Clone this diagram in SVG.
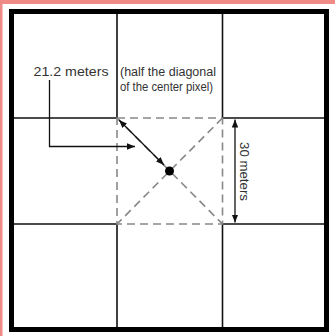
<svg xmlns="http://www.w3.org/2000/svg" width="335" height="336" viewBox="0 0 335 336">
<style>
.grid{stroke:#111;stroke-width:1.6;fill:none}
.dash{stroke:#888;stroke-width:1.6;fill:none;stroke-dasharray:8 5}
.ln{stroke:#111;stroke-width:1.3;fill:none}
.t{font-family:"Liberation Sans",Arial,sans-serif;font-size:13px;fill:#333}
.s{font-size:12px}
</style>
<defs>
<marker id="ah" viewBox="0 0 10 10" refX="10" refY="5" markerWidth="8" markerHeight="8" markerUnits="userSpaceOnUse" orient="auto-start-reverse">
<path d="M0,1 L10,5 L0,9 z" fill="#111"/>
</marker>
</defs>
<rect x="0" y="0" width="335" height="336" fill="#fff"/>
<rect x="0" y="0" width="335" height="4" fill="#f08a87"/>
<rect x="0" y="0" width="2.5" height="336" fill="#f08a87"/>
<g id="frame">
<rect x="11.5" y="11.5" width="315" height="318" fill="none" stroke="#000" stroke-width="5"/>
</g>
<g id="grid">
<path class="grid" d="M117,14 V118 M117,224 V327 M222.5,14 V118 M222.5,224 V327 M14,118 H117 M222.5,118 H324 M14,224 H117 M222.5,224 H324"/>
</g>
<g id="center-pixel">
<rect class="dash" x="117" y="118" width="105.5" height="106"/>
<path class="dash" d="M117,118 L222.5,224 M222.5,118 L117,224"/>
<circle cx="169.5" cy="171" r="4.5" fill="#000"/>
</g>
<g id="connectors">
<line class="ln" x1="119" y1="120" x2="164" y2="165" marker-start="url(#ah)" marker-end="url(#ah)"/>
<path class="ln" d="M49.5,80 V146.5 H135" marker-end="url(#ah)"/>
<line class="ln" x1="235" y1="119.5" x2="235" y2="222.5" marker-start="url(#ah)" marker-end="url(#ah)"/>
</g>
<g id="labels">
<text class="t" x="33.5" y="76" textLength="75" lengthAdjust="spacingAndGlyphs">21.2 meters</text>
<text class="t s" x="120" y="76" textLength="96" lengthAdjust="spacingAndGlyphs">(half the diagonal</text>
<text class="t s" x="120" y="90.5" textLength="93" lengthAdjust="spacingAndGlyphs">of the center pixel)</text>
<text class="t" transform="translate(239.5,142) rotate(90)" textLength="59" lengthAdjust="spacingAndGlyphs">30 meters</text>
</g>
</svg>
